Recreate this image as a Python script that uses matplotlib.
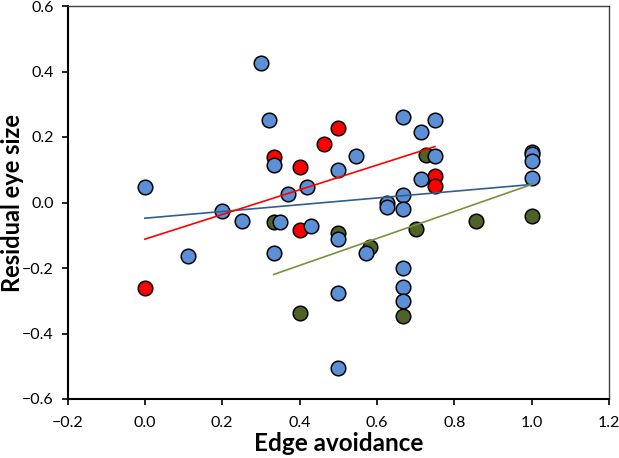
import numpy as np
import matplotlib.pyplot as plt

# --- data ---
blue_x = [0.0, 0.111, 0.2, 0.25, 0.3, 0.32, 0.333, 0.333, 0.35, 0.37, 0.42, 0.43,
          0.5, 0.5, 0.5, 0.5, 0.545, 0.571, 0.625, 0.625, 0.667, 0.667, 0.667,
          0.667, 0.667, 0.667, 0.714, 0.714, 0.75, 0.75, 1.0, 1.0, 1.0, 1.0]
blue_y = [0.048, -0.164, -0.027, -0.056, 0.425, 0.251, 0.116, -0.155, -0.059, 0.026,
          0.047, -0.072, 0.099, -0.112, -0.276, -0.504, 0.141, -0.153, -0.003, -0.013,
          0.260, 0.022, -0.020, -0.200, -0.259, -0.300, 0.216, 0.071, 0.252, 0.141,
          0.155, 0.148, 0.127, 0.076]

red_x = [0.0, 0.333, 0.4, 0.4, 0.462, 0.5, 0.75, 0.75]
red_y = [-0.262, 0.140, 0.109, -0.083, 0.179, 0.227, 0.081, 0.051]

green_x = [0.333, 0.4, 0.5, 0.583, 0.667, 0.7, 0.727, 0.857, 1.0]
green_y = [-0.059, -0.337, -0.092, -0.136, -0.347, -0.081, 0.144, -0.058, -0.041]

# trend lines (start x, end x, intercept, slope)
blue_fit = (0.0, 1.0, -0.048, 0.103)
red_fit = (0.0, 0.75, -0.112, 0.377)
green_fit = (0.333, 1.0, -0.357, 0.412)

x_ticks = [-0.2, 0.0, 0.2, 0.4, 0.6, 0.8, 1.0, 1.2]
y_ticks = [-0.6, -0.4, -0.2, 0.0, 0.2, 0.4, 0.6]

BLUE = '#5b8fd6'
RED = '#ff0000'
GREEN = '#4f6228'

plt.rcParams['font.family'] = ['Lato', 'DejaVu Sans']

fig = plt.figure(figsize=(6.19, 4.58), dpi=100)
ax = fig.add_axes([67.5 / 619, 1 - 399 / 458, 541.5 / 619, 393 / 458])

marker_kw = dict(s=110, edgecolors='black', linewidths=1.1)
ax.scatter(green_x, green_y, c=GREEN, zorder=2, **marker_kw)
ax.scatter(red_x, red_y, c=RED, zorder=3, **marker_kw)
ax.scatter(blue_x, blue_y, c=BLUE, zorder=4, **marker_kw)


def draw_fit(fit, color, lw):
    x0, x1, b, m = fit
    xs = np.array([x0, x1])
    ax.plot(xs, b + m * xs, color=color, linewidth=lw, zorder=5)


draw_fit(blue_fit, '#2f5f8f', 1.2)
draw_fit(red_fit, '#ff0000', 1.2)
draw_fit(green_fit, '#77933c', 1.2)

ax.set_xlim(-0.2, 1.2)
ax.set_ylim(-0.6, 0.6)
ax.set_xticks(x_ticks)
ax.set_yticks(y_ticks)
ax.set_xticklabels([f"{v:.1f}".replace('-', '\u2212') for v in x_ticks])
ax.set_yticklabels([f"{v:.1f}".replace('-', '\u2212') for v in y_ticks])
ax.tick_params(direction='out', length=4, width=1.2, labelsize=11.5, colors='black')
ax.tick_params(axis='x', pad=8)
ax.tick_params(axis='y', pad=6)

for side in ['left', 'bottom']:
    ax.spines[side].set_linewidth(1.5)
for side in ['top', 'right']:
    ax.spines[side].set_linewidth(1.0)
    ax.spines[side].set_color('#404040')

ax.set_xlabel("Edge avoidance", fontsize=17.5, fontweight='bold')
ax.set_ylabel("Residual eye size", fontsize=17, fontweight='bold')
ax.xaxis.set_label_coords(0.5, -0.085)
ax.yaxis.set_label_coords(-0.08, 0.5)

fig.savefig("out.png", dpi=100)
